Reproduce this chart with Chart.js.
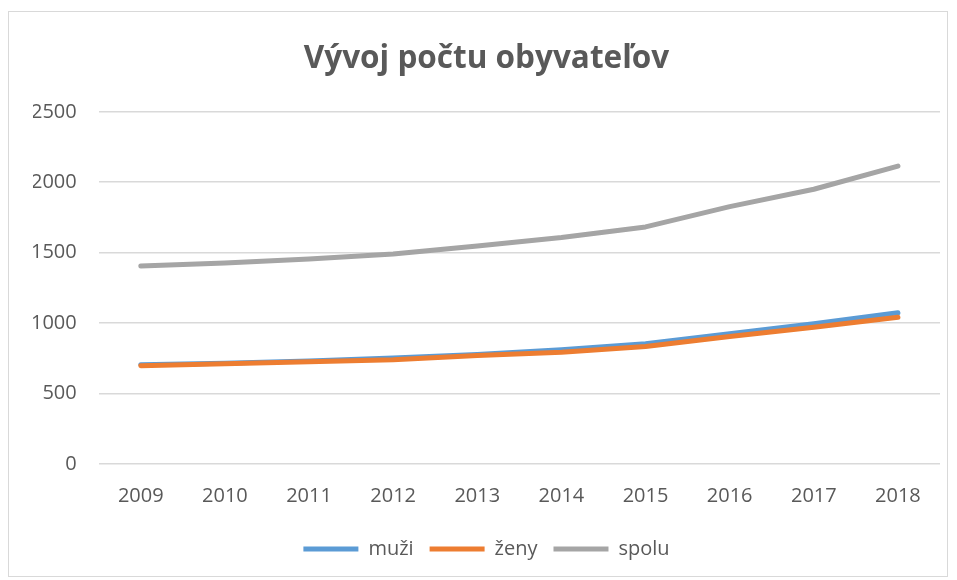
<!DOCTYPE html>
<html>
<head>
<meta charset="utf-8">
<script src="https://cdn.jsdelivr.net/npm/chart.js@4/dist/chart.umd.min.js"></script>
<style>
  html, body { margin: 0; padding: 0; background: #fff; }
  #box {
    position: absolute; left: 8px; top: 11px;
    width: 940px; height: 566px;
    border: 1px solid #d9d9d9; box-sizing: border-box;
  }
  #chart { display: block; }
</style>
</head>
<body>
<div id="box"><canvas id="chart" width="938" height="564"></canvas></div>
<script>
// data
const years = ["2009", "2010", "2011", "2012", "2013", "2014", "2015", "2016", "2017", "2018"];
const muzi  = [705, 715, 732, 752, 778, 811, 853, 924, 995, 1073];
const zeny  = [698, 711, 725, 740, 770, 794, 834, 905, 971, 1042];
const spolu = [1405, 1426, 1455, 1490, 1548, 1608, 1683, 1827, 1950, 2115];
const yTicks = [0, 500, 1000, 1500, 2000, 2500];

const FONT = "'Open Sans', 'Liberation Sans', sans-serif";
const GREY_TEXT = "#595959";

function lineSet(label, data, color, order) {
  return {
    label: label,
    data: data,
    borderColor: color,
    backgroundColor: color,
    borderWidth: 5,
    pointRadius: 0,
    pointStyle: "line",
    tension: 0,
    borderCapStyle: "round",
    borderJoinStyle: "round",
    order: order
  };
}

const ctx = document.getElementById("chart").getContext("2d");
new Chart(ctx, {
  type: "line",
  data: {
    labels: years,
    datasets: [
      lineSet("muži", muzi, "#5b9bd5", 2),
      lineSet("ženy", zeny, "#ed7d31", 1),
      lineSet("spolu", spolu, "#a5a5a5", 0)
    ]
  },
  options: {
    responsive: false,
    animation: false,
    // extra left padding shifts title + legend right; y axis width gives it back
    layout: { padding: { left: 24, right: 7, top: 0, bottom: 7 } },
    scales: {
      x: {
        offset: true,
        grid: { display: false },
        border: { display: false },
        afterFit: (axis) => { axis.height += 3; },
        ticks: { color: GREY_TEXT, font: { family: FONT, size: 20 }, padding: 12 }
      },
      y: {
        min: 0,
        max: 2500,
        afterBuildTicks: (axis) => { axis.ticks = yTicks.map(v => ({ value: v })); },
        afterFit: (axis) => { axis.width -= 24; },
        grid: { color: "#d9d9d9", lineWidth: 1.5, drawTicks: false },
        border: { display: false },
        ticks: {
          color: GREY_TEXT,
          font: { family: FONT, size: 20 },
          padding: 22,
          callback: (v) => String(v)
        }
      }
    },
    plugins: {
      title: {
        display: true,
        text: "Vývoj počtu obyvateľov",
        color: GREY_TEXT,
        font: { family: FONT, size: 31.5, weight: "bold" },
        padding: { top: 28, bottom: 34 }
      },
      legend: {
        position: "bottom",
        labels: {
          color: GREY_TEXT,
          font: { family: FONT, size: 20 },
          usePointStyle: true,
          pointStyleWidth: 55,
          padding: 16,
          sort: (a, b) => a.datasetIndex - b.datasetIndex
        }
      },
      tooltip: { enabled: false }
    }
  }
});
</script>
</body>
</html>
